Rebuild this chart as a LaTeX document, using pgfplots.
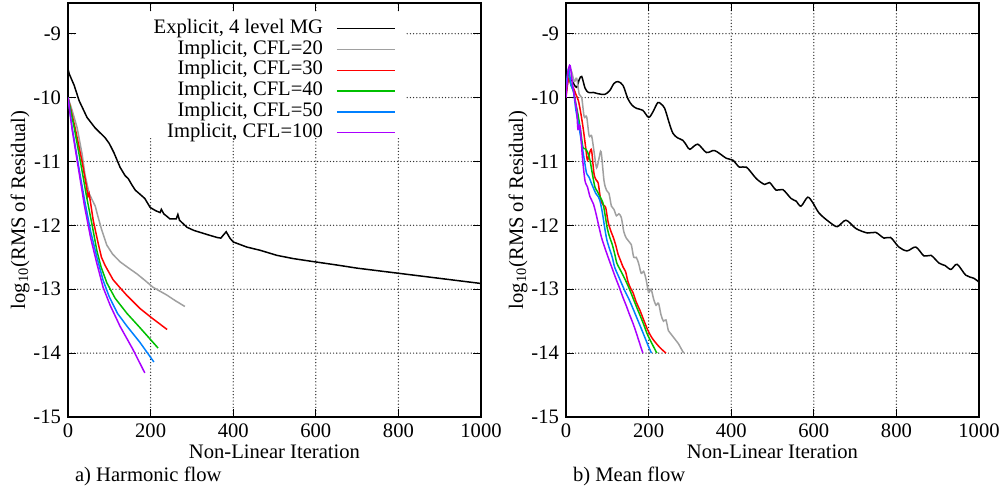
\documentclass[border=0pt]{standalone}
\usepackage{pgfplots}
\pgfplotsset{compat=1.18}
\usepackage{fontspec}
\setmainfont{Liberation Serif}
\definecolor{cgray}{RGB}{160,160,160}
\definecolor{cred}{RGB}{255,0,0}
\definecolor{cgreen}{RGB}{0,192,0}
\definecolor{cblue}{RGB}{0,128,255}
\definecolor{cpurple}{RGB}{170,0,255}
\pgfplotsset{
  myaxis/.style={
    scale only axis, width=206.5pt, height=207pt,
    xmin=0, xmax=1000, ymin=-15, ymax=-8.52,
    xtick={0,200,400,600,800,1000},
    xticklabels={0,200,400,600,800,1000},
    ytick={-15,-14,-13,-12,-11,-10,-9},
    yticklabels={-15,-14,-13,-12,-11,-10,-9},
    tick align=inside, major tick length=4pt,
    axis line style={line width=1.2pt},
    major tick style={black, line width=0.5pt},
    grid=major,
    grid style={black!80, line width=0.7pt, line cap=round, dash pattern=on 0pt off 1.6pt},
    xlabel={Non-Linear Iteration},
    ylabel={log\textsubscript{10}(RMS of Residual)},
    x label style={at={(axis description cs:0.5,-0.085)}, anchor=center},
    y label style={at={(axis description cs:-0.116,0.5)}, anchor=center, rotate=0},
    every axis plot/.append style={line width=0.75pt},
  }
}
\begin{document}
\begin{tikzpicture}[font=\fontsize{10.3}{12}\selectfont]
\useasboundingbox (0,0) rectangle (503pt,247.5pt);
\begin{axis}[myaxis, at={(34pt,39pt)}, anchor=south west,
  legend cell align=right, legend plot pos=right,
  legend image code/.code={\draw[#1] (0pt,0pt) -- (29pt,0pt);},
  legend style={at={(0.794,0.964)}, anchor=north east, draw=none, fill=none,
    inner sep=0pt, column sep=6.5pt,
    nodes={inner sep=0pt, text height=7.5pt, text depth=2.9pt}},
]
\fill[white] (axis cs:22,-10.63) rectangle (axis cs:816,-8.68);
\addplot[black] coordinates {(0,-9.55)(3,-9.63)(15,-9.81)(27,-10.05)(46,-10.31)(65,-10.47)(90,-10.63)(100,-10.72)(111,-10.86)(126,-11.09)(138,-11.22)(146,-11.27)(155,-11.37)(163,-11.45)(172,-11.5)(186,-11.58)(199,-11.72)(212,-11.77)(223,-11.8)(226,-11.75)(232,-11.82)(247,-11.9)(262,-11.9)(266,-11.83)(270,-11.92)(288,-12.03)(305,-12.08)(320,-12.11)(340,-12.15)(361,-12.19)(370,-12.2)(383,-12.1)(392,-12.2)(400,-12.26)(433,-12.34)(465,-12.39)(506,-12.47)(545,-12.52)(586,-12.56)(650,-12.62)(700,-12.67)(800,-12.75)(900,-12.83)(1000,-12.91)};
\addlegendentry{Explicit, 4 level MG}
\addplot[cgray] coordinates {(0,-10.0)(10,-10.2)(22,-10.47)(34,-10.88)(41,-11.2)(51,-11.5)(60,-11.62)(66,-11.7)(72,-11.85)(82,-12.08)(94,-12.31)(108,-12.45)(126,-12.57)(145,-12.66)(167,-12.76)(186,-12.86)(206,-12.97)(239,-13.09)(260,-13.18)(283,-13.27)};
\addlegendentry{Implicit, CFL=20}
\addplot[cred] coordinates {(0,-10.0)(8,-10.22)(17,-10.47)(34,-11.0)(45,-11.4)(48,-11.55)(51,-11.5)(54,-11.62)(61,-11.92)(73,-12.28)(81,-12.5)(90,-12.63)(109,-12.85)(125,-12.97)(143,-13.1)(174,-13.3)(203,-13.45)(240,-13.63)};
\addlegendentry{Implicit, CFL=30}
\addplot[cgreen] coordinates {(0,-10.0)(8,-10.25)(15,-10.47)(30,-11.0)(45,-11.55)(60,-12.05)(70,-12.4)(80,-12.65)(94,-12.9)(114,-13.14)(143,-13.38)(174,-13.6)(218,-13.92)};
\addlegendentry{Implicit, CFL=40}
\addplot[cblue] coordinates {(0,-10.0)(10,-10.47)(25,-11.05)(40,-11.6)(55,-12.1)(70,-12.5)(85,-12.86)(100,-13.12)(120,-13.38)(143,-13.58)(174,-13.83)(208,-14.14)};
\addlegendentry{Implicit, CFL=50}
\addplot[cpurple] coordinates {(0,-10.0)(10,-10.5)(25,-11.1)(40,-11.7)(55,-12.2)(70,-12.6)(85,-12.97)(102,-13.25)(126,-13.58)(157,-13.94)(186,-14.31)};
\addlegendentry{Implicit, CFL=100}
\end{axis}
\begin{axis}[myaxis, at={(283pt,39pt)}, anchor=south west]
\addplot[black, smooth] coordinates {(0,-9.94)(6,-9.7)(14,-9.73)(20,-9.8)(26,-9.84)(32,-9.72)(38,-9.67)(46,-9.85)(54,-9.92)(66,-9.92)(78,-9.94)(94,-9.95)(106,-9.89)(116,-9.78)(126,-9.75)(138,-9.81)(150,-10.02)(160,-10.12)(171,-10.17)(186,-10.2)(200,-10.31)(210,-10.23)(222,-10.08)(230,-10.1)(239,-10.17)(250,-10.4)(259,-10.56)(270,-10.63)(283,-10.67)(292,-10.75)(300,-10.81)(319,-10.73)(340,-10.86)(360,-10.83)(388,-10.95)(404,-10.98)(420,-11.09)(437,-11.09)(461,-11.27)(481,-11.36)(493,-11.33)(509,-11.45)(525,-11.44)(545,-11.58)(557,-11.62)(569,-11.7)(585,-11.56)(597,-11.64)(613,-11.81)(638,-11.95)(657,-12.02)(678,-11.92)(702,-12.05)(730,-12.12)(750,-12.11)(770,-12.2)(786,-12.19)(806,-12.34)(826,-12.4)(847,-12.34)(867,-12.48)(884,-12.47)(903,-12.59)(918,-12.63)(932,-12.69)(947,-12.61)(968,-12.78)(988,-12.83)(1000,-12.89)};
\addplot[cgray, smooth] coordinates {(0,-9.9)(8,-9.55)(14,-9.6)(20,-9.75)(26,-9.7)(32,-9.95)(38,-10.0)(44,-10.3)(50,-10.3)(56,-10.6)(62,-10.6)(68,-10.85)(74,-11.1)(80,-10.95)(85,-10.85)(92,-11.3)(98,-11.45)(104,-11.5)(110,-11.7)(116,-11.75)(122,-11.85)(128,-11.82)(134,-11.88)(140,-12.1)(146,-12.2)(152,-12.25)(158,-12.3)(164,-12.5)(170,-12.5)(176,-12.6)(182,-12.75)(188,-12.72)(194,-12.85)(200,-13.05)(206,-13.0)(212,-13.15)(218,-13.25)(224,-13.22)(230,-13.4)(236,-13.5)(242,-13.48)(248,-13.65)(254,-13.7)(260,-13.75)(266,-13.8)(272,-13.85)(278,-13.92)(285,-14.0)};
\addplot[cred, smooth] coordinates {(0,-10.0)(6,-9.7)(12,-9.8)(18,-9.85)(24,-9.95)(30,-10.05)(36,-10.25)(42,-10.5)(48,-10.8)(52,-10.98)(58,-10.85)(62,-10.83)(68,-11.2)(74,-11.3)(78,-11.34)(84,-11.6)(90,-11.68)(96,-11.72)(102,-11.95)(108,-12.08)(114,-12.18)(120,-12.3)(126,-12.45)(132,-12.55)(138,-12.65)(144,-12.72)(150,-12.88)(156,-12.98)(162,-13.05)(170,-13.2)(179,-13.33)(188,-13.48)(198,-13.64)(208,-13.76)(220,-13.86)(230,-13.93)(242,-14.0)};
\addplot[cgreen, smooth] coordinates {(0,-9.9)(6,-9.6)(12,-9.8)(18,-9.9)(24,-10.1)(30,-10.3)(36,-10.55)(41,-10.78)(46,-10.8)(52,-10.85)(58,-10.98)(64,-11.2)(70,-11.4)(76,-11.47)(82,-11.55)(89,-11.64)(95,-11.85)(100,-12.05)(106,-12.19)(112,-12.3)(118,-12.45)(123,-12.59)(130,-12.68)(138,-12.78)(147,-12.9)(155,-13.02)(163,-13.15)(171,-13.28)(180,-13.42)(188,-13.55)(196,-13.69)(204,-13.8)(212,-13.9)(220,-14.0)};
\addplot[cblue, smooth] coordinates {(0,-9.85)(6,-9.55)(12,-9.8)(18,-9.9)(24,-10.2)(30,-10.4)(34,-10.56)(40,-10.8)(45,-11.0)(50,-11.19)(56,-11.25)(62,-11.35)(66,-11.41)(72,-11.5)(78,-11.55)(82,-11.61)(88,-11.8)(94,-12.05)(99,-12.23)(106,-12.38)(112,-12.5)(118,-12.66)(126,-12.78)(134,-12.9)(142,-13.02)(152,-13.15)(162,-13.3)(171,-13.44)(180,-13.58)(190,-13.74)(200,-13.9)(207,-14.0)};
\addplot[cpurple, smooth] coordinates {(0,-10.0)(5,-9.6)(10,-9.5)(16,-9.8)(22,-10.05)(26,-10.2)(29,-10.5)(34,-10.45)(40,-10.95)(46,-11.3)(52,-11.4)(58,-11.55)(66,-11.66)(72,-11.8)(79,-12.0)(86,-12.19)(94,-12.35)(102,-12.5)(111,-12.66)(120,-12.82)(129,-12.97)(138,-13.13)(146,-13.26)(154,-13.4)(162,-13.53)(170,-13.68)(178,-13.84)(186,-14.0)};
\end{axis}
\node[anchor=west] at (34pt,9.5pt) {a) Harmonic flow};
\node[anchor=west] at (283pt,9.5pt) {b) Mean flow};
\end{tikzpicture}
\end{document}
